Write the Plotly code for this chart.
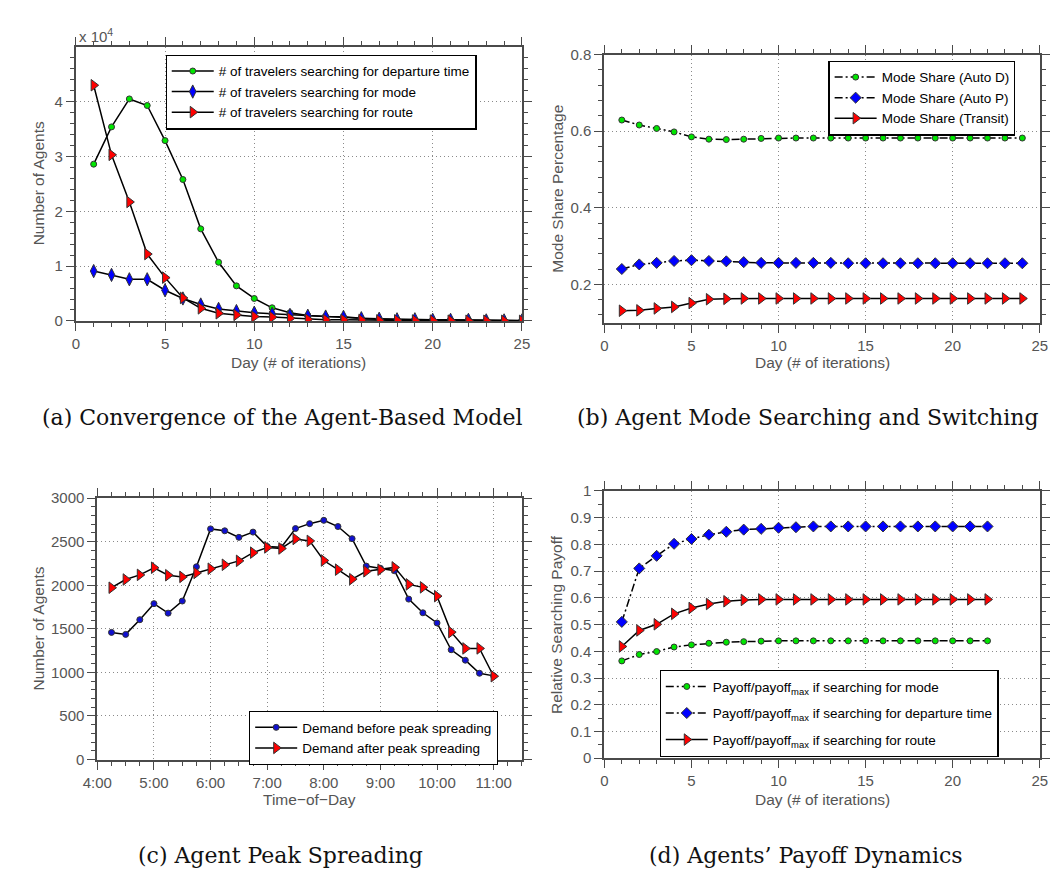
import plotly.graph_objects as go

# ---------------- data ----------------
days_a = list(range(1, 26))
dep_a = [28600, 35400, 40500, 39300, 32900, 25800, 16800, 10700, 6400, 4100, 2400, 1500,
         1000, 800, 600, 400, 300, 200, 150, 100, 100, 80, 60, 40, 30]
mode_a = [9100, 8400, 7600, 7600, 5600, 4100, 3000, 2200, 1800, 1500, 1300, 1100,
          950, 800, 750, 500, 400, 300, 300, 200, 200, 200, 100, 100, 100]
route_a = [43000, 30300, 21700, 12200, 7900, 4200, 2300, 1400, 1100, 800, 700, 500,
           300, 200, 200, 150, 100, 100, 80, 60, 50, 40, 30, 20, 10]

days_b = list(range(1, 25))
autoD_b = [0.629, 0.616, 0.607, 0.598, 0.585, 0.579, 0.578, 0.579, 0.581, 0.582, 0.582, 0.582,
           0.582, 0.582, 0.582, 0.582, 0.582, 0.582, 0.582, 0.582, 0.582, 0.582, 0.582, 0.582]
autoP_b = [0.240, 0.252, 0.256, 0.261, 0.263, 0.261, 0.260, 0.258, 0.256, 0.256, 0.256, 0.256,
           0.256, 0.255, 0.255, 0.255, 0.255, 0.255, 0.255, 0.255, 0.255, 0.255, 0.255, 0.255]
transit_b = [0.131, 0.132, 0.137, 0.141, 0.151, 0.161, 0.162, 0.163, 0.163, 0.163, 0.163, 0.163,
             0.163, 0.163, 0.163, 0.163, 0.163, 0.163, 0.163, 0.163, 0.163, 0.163, 0.163, 0.163]

times_c = ["4:15", "4:30", "4:45", "5:00", "5:15", "5:30", "5:45", "6:00", "6:15", "6:30",
           "6:45", "7:00", "7:15", "7:30", "7:45", "8:00", "8:15", "8:30", "8:45", "9:00",
           "9:15", "9:30", "9:45", "10:00", "10:15", "10:30", "10:45", "11:00"]
before_c = [1459, 1436, 1605, 1789, 1680, 1819, 2212, 2647, 2625, 2550, 2610, 2445, 2437, 2651,
            2707, 2745, 2674, 2535, 2220, 2194, 2167, 1841, 1684, 1567, 1260, 1140, 990, 960]
after_c = [1972, 2066, 2119, 2201, 2115, 2096, 2141, 2190, 2235, 2280, 2374, 2434, 2422, 2531,
           2509, 2284, 2179, 2070, 2160, 2179, 2205, 2010, 1976, 1875, 1462, 1275, 1275, 956]
hour_ticks_c = ["4:00", "5:00", "6:00", "7:00", "8:00", "9:00", "10:00", "11:00"]

days_d = list(range(1, 23))
mode_d = [0.364, 0.388, 0.399, 0.416, 0.424, 0.430, 0.434, 0.436, 0.438, 0.439, 0.439,
          0.439, 0.439, 0.439, 0.439, 0.439, 0.439, 0.439, 0.439, 0.439, 0.439, 0.439]
dep_d = [0.510, 0.710, 0.757, 0.802, 0.820, 0.836, 0.847, 0.855, 0.858, 0.862, 0.864,
         0.867, 0.867, 0.867, 0.867, 0.867, 0.867, 0.867, 0.867, 0.867, 0.867, 0.867]
route_d = [0.418, 0.478, 0.501, 0.540, 0.562, 0.577, 0.587, 0.592, 0.594, 0.594, 0.594,
           0.594, 0.594, 0.594, 0.594, 0.594, 0.594, 0.594, 0.594, 0.594, 0.594, 0.594]


def to_hours(s):
    h, m = s.split(":")
    return int(h) + int(m) / 60.0


x_c = [to_hours(t) for t in times_c]
hour_vals_c = [to_hours(t) for t in hour_ticks_c]

# ---------------- styling ----------------
W, H = 1060, 871
AX = "#4a4a4a"
TXT = "#555555"
SANS = "Liberation Sans, Arial, sans-serif"
SERIF = "DejaVu Serif, serif"
GREEN = "#00e600"
BLUE = "#0000ff"
RED = "#ff0000"
EDGE = "#333333"
DASHDOT = "8px,3px,2px,3px"


def dx(l, r):
    return [l / W, r / W]


def dy(t, b):
    return [1 - b / H, 1 - t / H]


def axis(domain, anchor, rng, minor_dtick, minor_tick0=0, **kw):
    d = dict(domain=domain, anchor=anchor, range=rng, showline=True, linecolor=AX, linewidth=2,
             mirror="allticks", ticks="outside", ticklen=8, tickwidth=1.2, tickcolor=AX,
             tickfont=dict(family=SANS, size=15, color=TXT), showgrid=True, gridcolor="#8a8a8a",
             griddash="1px,3px", gridwidth=1, zeroline=False, fixedrange=True,
             minor=dict(ticks="outside", ticklen=4, tickwidth=1.2, tickcolor=AX, showgrid=False,
                        tickmode="linear", tick0=minor_tick0, dtick=minor_dtick))
    d.update(kw)
    return d


fig = go.Figure()

line = dict(color="black", width=1.5)
ddline = dict(color="black", width=1.5, dash=DASHDOT)
m_circle = dict(symbol="circle", size=6, color=GREEN, line=dict(color=EDGE, width=1))
m_dia_a = dict(symbol="diamond-tall", size=9.5, color=BLUE, line=dict(color=EDGE, width=1))
m_dia = dict(symbol="diamond", size=8.5, color=BLUE, line=dict(color=EDGE, width=1))
m_tri = dict(symbol="triangle-right", size=10, color=RED, line=dict(color=EDGE, width=1))

# (a)
fig.add_trace(go.Scatter(x=days_a, y=dep_a, mode="lines+markers", name="# of travelers searching for departure time",
                         line=line, marker=m_circle, xaxis="x", yaxis="y", legend="legend"))
fig.add_trace(go.Scatter(x=days_a, y=mode_a, mode="lines+markers", name="# of travelers searching for mode",
                         line=line, marker=m_dia_a, xaxis="x", yaxis="y", legend="legend"))
fig.add_trace(go.Scatter(x=days_a, y=route_a, mode="lines+markers", name="# of travelers searching for route",
                         line=line, marker=m_tri, xaxis="x", yaxis="y", legend="legend"))

# (b)
fig.add_trace(go.Scatter(x=days_b, y=autoD_b, mode="lines+markers", name="Mode Share (Auto D)",
                         line=ddline, marker=m_circle, xaxis="x2", yaxis="y2", legend="legend2"))
fig.add_trace(go.Scatter(x=days_b, y=autoP_b, mode="lines+markers", name="Mode Share (Auto P)",
                         line=ddline, marker=m_dia, xaxis="x2", yaxis="y2", legend="legend2"))
fig.add_trace(go.Scatter(x=days_b, y=transit_b, mode="lines+markers", name="Mode Share (Transit)",
                         line=line, marker=m_tri, xaxis="x2", yaxis="y2", legend="legend2"))

# (c)
fig.add_trace(go.Scatter(x=x_c, y=before_c, mode="lines+markers", name="Demand before peak spreading",
                         line=line, marker=dict(symbol="circle", size=6, color="#1010d0", line=dict(color=EDGE, width=1)),
                         xaxis="x3", yaxis="y3", legend="legend3"))
fig.add_trace(go.Scatter(x=x_c, y=after_c, mode="lines+markers", name="Demand after peak spreading",
                         line=line, marker=m_tri, xaxis="x3", yaxis="y3", legend="legend3"))

# (d)
fig.add_trace(go.Scatter(x=days_d, y=mode_d, mode="lines+markers", name="Payoff/payoff<sub>max</sub> if searching for mode",
                         line=ddline, marker=m_circle, xaxis="x4", yaxis="y4", legend="legend4", legendgroup="d1"))
fig.add_trace(go.Scatter(x=days_d, y=dep_d, mode="lines+markers", name="Payoff/payoff<sub>max</sub> if searching for departure time",
                         line=ddline, marker=m_dia, xaxis="x4", yaxis="y4", legend="legend4", legendgroup="d2"))
fig.add_trace(go.Scatter(x=days_d, y=route_d, mode="lines+markers", name="Payoff/payoff<sub>max</sub> if searching for route",
                         line=line, marker=m_tri, xaxis="x4", yaxis="y4", legend="legend4", legendgroup="d3"))

ya_vals = [0, 10000, 20000, 30000, 40000]
ya_text = ["0", "1", "2", "3", "4"]


def legend(xl, yt, gap=0):
    return dict(x=xl / W, y=1 - yt / H, xanchor="left", yanchor="top", bgcolor="white",
                bordercolor="black", borderwidth=1.2, font=dict(family=SANS, size=13.5, color="black"),
                itemwidth=42, tracegroupgap=gap)


fig.update_layout(
    width=W, height=H, margin=dict(l=0, r=0, t=0, b=0),
    paper_bgcolor="white", plot_bgcolor="white", showlegend=True,
    xaxis=axis(dx(54, 510), "y", [0, 25], 1, tickvals=[0, 5, 10, 15, 20, 25]),
    yaxis=axis(dy(31, 310), "x", [0, 49900], 2000, tickvals=ya_vals, ticktext=ya_text),
    xaxis2=axis(dx(594.3, 1039.3), "y2", [0, 25], 1, tickvals=[0, 5, 10, 15, 20, 25]),
    yaxis2=axis(dy(38.3, 311.7), "x2", [0.1, 0.8], 0.04, 0, tickvals=[0.2, 0.4, 0.6, 0.8],
                ticktext=["0.2", "0.4", "0.6", "0.8"]),
    xaxis3=axis(dx(76, 510), "y3", [4, 11.5], 0.25, 4, tickvals=hour_vals_c, ticktext=hour_ticks_c),
    yaxis3=axis(dy(490.7, 757.3), "x3", [0, 3000], 100, tickvals=[0, 500, 1000, 1500, 2000, 2500, 3000]),
    xaxis4=axis(dx(594.3, 1039.3), "y4", [0, 25], 1, tickvals=[0, 5, 10, 15, 20, 25]),
    yaxis4=axis(dy(483.3, 756), "x4", [0, 1], 0.05, 0, tickvals=[i / 10 for i in range(11)],
                ticktext=["0", "0.1", "0.2", "0.3", "0.4", "0.5", "0.6", "0.7", "0.8", "0.9", "1"]),
    legend=legend(145.7, 38.3),
    legend2=legend(823.3, 44.5),
    legend3=legend(231, 707.7),
    legend4=legend(650.7, 666, gap=6),
)

ann = []


def txt(x, y, s, size=15.5, color=TXT, angle=0, family=SANS, xanchor="center"):
    ann.append(dict(x=x / W, y=1 - y / H, xref="paper", yref="paper", text=s, showarrow=False,
                    font=dict(family=family, size=size, color=color), textangle=angle,
                    xanchor=xanchor, yanchor="middle"))


# axis titles
txt(282, 352, "Day (# of iterations)")
txt(16, 170, "Number of Agents", angle=-90)
txt(817, 352, "Day (# of iterations)")
txt(546, 175, "Mode Share Percentage", angle=-90)
txt(293, 798, "Time\u2212of\u2212Day")
txt(16, 624, "Number of Agents", angle=-90)
txt(817, 798, "Day (# of iterations)")
txt(546, 620, "Relative Searching Payoff", angle=-90)
# multiplier
txt(55, 19, "x 10<sup>4</sup>", size=15, xanchor="left")
# captions
CAP = "#111111"
txt(265, 408, "(a) Convergence of the Agent-Based Model", size=22, color=CAP, family=SERIF)
txt(802, 408, "(b) Agent Mode Searching and Switching", size=22, color=CAP, family=SERIF)
txt(263, 855, "(c) Agent Peak Spreading", size=22, color=CAP, family=SERIF)
txt(800, 855, "(d) Agents\u2019 Payoff Dynamics", size=22, color=CAP, family=SERIF)

fig.update_layout(annotations=ann)
fig.write_html("out.html")
